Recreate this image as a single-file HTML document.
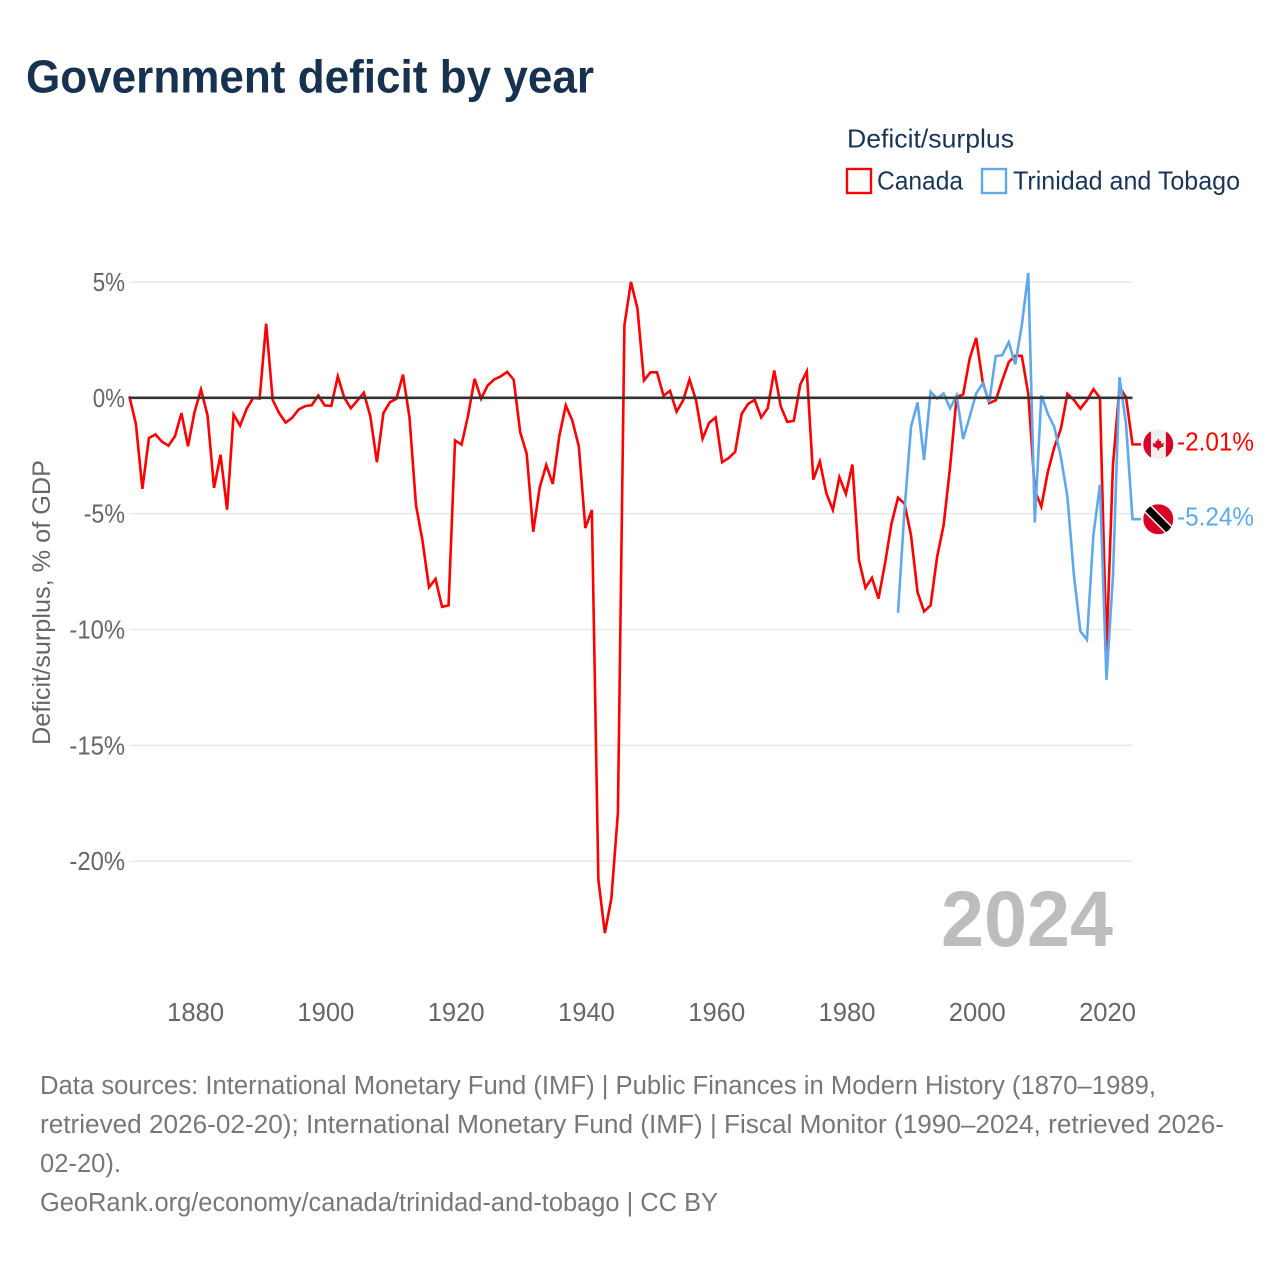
<!DOCTYPE html>
<html lang="en">
<head>
<meta charset="utf-8">
<title>Government deficit by year</title>
<style>
html,body{margin:0;padding:0;background:#fff;width:1280px;height:1280px;overflow:hidden}
svg{display:block}
text{font-family:"Liberation Sans",sans-serif}
</style>
</head>
<body>
<svg id="chart" xmlns="http://www.w3.org/2000/svg" width="1280" height="1280" viewBox="0 0 1280 1280">
  <rect x="0" y="0" width="1280" height="1280" fill="#ffffff"/>
  <text x="26" y="92.5" font-size="46" font-weight="700" fill="#17324f" textLength="568" lengthAdjust="spacingAndGlyphs">Government deficit by year</text>

  <g>
    <text x="847" y="147.5" font-size="26" fill="#1b3557" textLength="167" lengthAdjust="spacingAndGlyphs">Deficit/surplus</text>
    <rect x="847" y="169" width="24" height="24" fill="#ffffff" stroke="#ff0000" stroke-width="2.4"/>
    <text x="877" y="189.5" font-size="26" fill="#1b3557" textLength="86" lengthAdjust="spacingAndGlyphs">Canada</text>
    <rect x="982" y="169" width="24" height="24" fill="#ffffff" stroke="#5fa8ee" stroke-width="2.4"/>
    <text x="1013" y="189.5" font-size="26" fill="#1b3557" textLength="227" lengthAdjust="spacingAndGlyphs">Trinidad and Tobago</text>
  </g>

  <g id="grid"></g>
  <g id="yticks"></g>
  <g id="xticks"></g>
  <text transform="translate(50,745) rotate(-90)" x="0" y="0" font-size="25" fill="#666666" textLength="285" lengthAdjust="spacingAndGlyphs">Deficit/surplus, % of GDP</text>
  <text x="941" y="946" font-size="79" font-weight="700" fill="#bdbdbd" textLength="172" lengthAdjust="spacingAndGlyphs">2024</text>

  <g id="series"></g>
  <g id="zero"></g>
  <g id="ends"></g>

  <defs>
    <clipPath id="flag-clip"><circle cx="0" cy="0" r="15"/></clipPath>
  </defs>

  <g font-size="25.5" fill="#777777">
    <text x="40" y="1094" textLength="1116" lengthAdjust="spacingAndGlyphs">Data sources: International Monetary Fund (IMF) | Public Finances in Modern History (1870–1989,</text>
    <text x="40" y="1133" textLength="1184" lengthAdjust="spacingAndGlyphs">retrieved 2026-02-20); International Monetary Fund (IMF) | Fiscal Monitor (1990–2024, retrieved 2026-</text>
    <text x="40" y="1172" textLength="81" lengthAdjust="spacingAndGlyphs">02-20).</text>
    <text x="40" y="1211" textLength="678" lengthAdjust="spacingAndGlyphs">GeoRank.org/economy/canada/trinidad-and-tobago | CC BY</text>
  </g>
</svg>

<script>
const canadaYears = [
1870,1871,1872,1873,1874,1875,1876,1877,1878,1879,
1880,1881,1882,1883,1884,1885,1886,1887,1888,1889,
1890,1891,1892,1893,1894,1895,1896,1897,1898,1899,
1900,1901,1902,1903,1904,1905,1906,1907,1908,1909,
1910,1911,1912,1913,1914,1915,1916,1917,1918,1919,
1920,1921,1922,1923,1924,1925,1926,1927,1928,1929,
1930,1931,1932,1933,1934,1935,1936,1937,1938,1939,
1940,1941,1942,1943,1944,1945,1946,1947,1948,1949,
1950,1951,1952,1953,1954,1955,1956,1957,1958,1959,
1960,1961,1962,1963,1964,1965,1966,1967,1968,1969,
1970,1971,1972,1973,1974,1975,1976,1977,1978,1979,
1980,1981,1982,1983,1984,1985,1986,1987,1988,1989,
1990,1991,1992,1993,1994,1995,1996,1997,1998,1999,
2000,2001,2002,2003,2004,2005,2006,2007,2008,2009,
2010,2011,2012,2013,2014,2015,2016,2017,2018,2019,
2020,2021,2022,2023,2024];
const canadaValues = [
0.06,-1.12,-3.93,-1.74,-1.58,-1.89,-2.07,-1.66,-0.66,-2.09,
-0.62,0.36,-0.76,-3.89,-2.46,-4.83,-0.72,-1.2,-0.48,-0.01,
-0.03,3.2,-0.09,-0.66,-1.07,-0.86,-0.5,-0.36,-0.32,0.1,
-0.33,-0.35,0.92,0,-0.45,-0.12,0.22,-0.81,-2.78,-0.66,
-0.19,-0.04,1.0,-0.84,-4.63,-6.17,-8.18,-7.82,-9.02,-8.96,
-1.84,-2.02,-0.76,0.82,-0.04,0.53,0.79,0.92,1.12,0.78,
-1.48,-2.42,-5.78,-3.86,-2.9,-3.72,-1.66,-0.33,-0.98,-2.1,
-5.62,-4.84,-20.8,-23.1,-21.6,-17.9,3.13,5.0,3.85,0.75,
1.1,1.1,0.09,0.3,-0.6,-0.12,0.79,-0.12,-1.77,-1.08,
-0.85,-2.78,-2.6,-2.33,-0.69,-0.26,-0.09,-0.85,-0.45,1.18,
-0.37,-1.04,-0.99,0.58,1.14,-3.53,-2.75,-4.12,-4.84,-3.43,
-4.15,-2.88,-7.0,-8.2,-7.77,-8.67,-7.16,-5.43,-4.31,-4.57,
-5.94,-8.39,-9.22,-8.96,-6.87,-5.5,-2.98,0.04,0.14,1.69,
2.59,0.68,-0.23,-0.11,0.75,1.54,1.81,1.81,0.17,-4.0,
-4.7,-3.2,-2.13,-1.34,0.17,-0.09,-0.47,-0.11,0.37,0,
-10.9,-2.9,0.46,0.03,-2.01];
const trinidadYears = [
1988,1989,
1990,1991,1992,1993,1994,1995,1996,1997,1998,1999,
2000,2001,2002,2003,2004,2005,2006,2007,2008,2009,
2010,2011,2012,2013,2014,2015,2016,2017,2018,2019,
2020,2021,2022,2023,2024];
const trinidadValues = [
-9.28,-4.83,
-1.25,-0.2,-2.68,0.26,-0.03,0.19,-0.46,0.11,-1.78,-0.82,
0.19,0.62,-0.19,1.8,1.84,2.4,1.44,3.13,5.39,-5.38,
0.1,-0.69,-1.27,-2.55,-4.26,-7.64,-10.08,-10.44,-5.91,-3.75,
-12.17,-7.7,0.89,-1.12,-5.24];
const yTickValues = [5,0,-5,-10,-15,-20];
const yTickLabels = ["5%","0%","-5%","-10%","-15%","-20%"];
const xTickYears = [1880,1900,1920,1940,1960,1980,2000,2020];
const xTickLabels = ["1880","1900","1920","1940","1960","1980","2000","2020"];

const NS = "http://www.w3.org/2000/svg";
const xScale = function (year) { return 194.5 + (year - 1880) * 6.514; };
const yScale = function (v) { return 397.8 - v * 23.17; };
const plotLeft = xScale(1870);
const plotRight = xScale(2024);

function make(tag, parent, attrs) {
  const el = document.createElementNS(NS, tag);
  for (const k in attrs) el.setAttribute(k, attrs[k]);
  parent.appendChild(el);
  return el;
}
function tickWidth(label) {
  let w = 0;
  for (const c of label) w += c === "-" ? 9 : c === "%" ? 18 : 14.3;
  return w;
}

const grid = document.getElementById("grid");
const yticks = document.getElementById("yticks");
yTickValues.forEach(function (v, i) {
  if (v !== 0) {
    const line = make("line", grid, {x1: plotLeft, x2: plotRight, y1: yScale(v), y2: yScale(v), stroke: "#e9e9e9", "stroke-width": 1.5});
    
    
  }
  const label = yTickLabels[i];
  const t = make("text", yticks, {x: 125 - tickWidth(label), y: yScale(v) + 9, "font-size": 25.6, fill: "#666666", textLength: tickWidth(label), lengthAdjust: "spacingAndGlyphs"});
  
  
  t.textContent = label;
});

const xticks = document.getElementById("xticks");
xTickYears.forEach(function (yr, i) {
  const t = make("text", xticks, {x: xScale(yr) + 1.1, y: 1021, "text-anchor": "middle", "font-size": 25.6, fill: "#666666"});
  
  
  t.textContent = xTickLabels[i];
});

const seriesG = document.getElementById("series");
function drawSeries(years, values, color, name) {
  const pts = years.map(function (y, i) { return xScale(y).toFixed(2) + "," + yScale(values[i]).toFixed(2); });
  const lastY = yScale(values[values.length - 1]);
  const lastX = xScale(years[years.length - 1]);
  pts.push("1141," + lastY.toFixed(2));
  const p = make("polyline", seriesG, {points: pts.join(" "), fill: "none", stroke: color, "stroke-width": 2.6, "stroke-linejoin": "miter", "stroke-miterlimit": 4});
  
  
  return {x: lastX, y: lastY};
}
drawSeries(canadaYears, canadaValues, "#ff0000", "line-canada");
drawSeries(trinidadYears, trinidadValues, "#5fa8ee", "line-trinidad-and-tobago");

const zeroG = document.getElementById("zero");
const zeroLine = make("line", zeroG, {x1: plotLeft, x2: plotRight, y1: yScale(0), y2: yScale(0), stroke: "#333333", "stroke-width": 2.6});



const ends = document.getElementById("ends");
function endLabel(value, color, name) {
  const y = yScale(value);
  const t = make("text", ends, {x: 1177, y: y + 6.3, "font-size": 25.6, fill: color, textLength: 77, lengthAdjust: "spacingAndGlyphs"});
  
  
  t.textContent = value.toFixed(2) + "%";
  const g = make("g", ends, {transform: "translate(1158.3," + y.toFixed(2) + ")", "clip-path": "url(#flag-clip)"});
  return g;
}

const caFlag = endLabel(canadaValues[canadaValues.length - 1], "#ff0000", "end-label-canada");


make("rect", caFlag, {x: -15, y: -15, width: 30, height: 30, fill: "#efefef"});
make("rect", caFlag, {x: -15, y: -15, width: 7.6, height: 30, fill: "#d80027"});
make("rect", caFlag, {x: 7.6, y: -15, width: 7.4, height: 30, fill: "#d80027"});
make("polygon", caFlag, {points: "0,-6 1.5,-3 3,-3.8 2.6,-0.6 5.6,-1.6 4.8,1 6,1.6 1,4 0.6,6 -0.6,6 -1,4 -6,1.6 -4.8,1 -5.6,-1.6 -2.6,-0.6 -3,-3.8 -1.5,-3", fill: "#d80027"});

const ttFlag = endLabel(trinidadValues[trinidadValues.length - 1], "#5fa8ee", "end-label-trinidad-and-tobago");


make("rect", ttFlag, {x: -15, y: -15, width: 30, height: 30, fill: "#d80027"});
make("line", ttFlag, {x1: -15, y1: -15, x2: 15, y2: 15, stroke: "#efefef", "stroke-width": 10});
make("line", ttFlag, {x1: -15, y1: -15, x2: 15, y2: 15, stroke: "#000000", "stroke-width": 7});
</script>
</body>
</html>
